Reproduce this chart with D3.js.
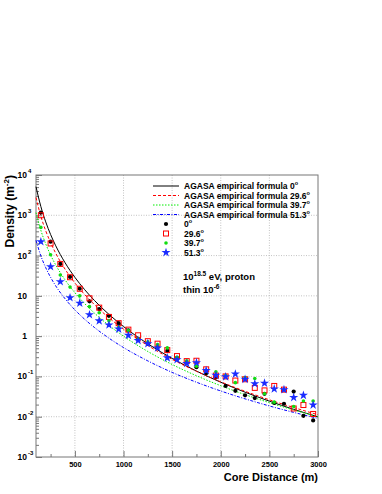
<!DOCTYPE html>
<html>
<head>
<meta charset="utf-8">
<script src="https://cdn.jsdelivr.net/npm/d3@7"></script>
<style>
  body { margin: 0; background: #fff; }
  svg { font-family: 'Liberation Sans', Arial, sans-serif; font-weight: bold; }
</style>
</head>
<body>
<svg id="chart" width="382" height="494"></svg>
<script>
// Simulated densities (m^-2) against core distance (m)
const distance = [150, 250, 350, 450, 550, 650, 750, 850, 950, 1050, 1150, 1250, 1350, 1450, 1550,
  1650, 1750, 1850, 1950, 2050, 2150, 2250, 2350, 2450, 2550, 2650, 2750, 2850, 2950];
const density0 = [1170, 221, 62, 29.5, 15, 7.3, 4.7, 3.2, 2.1, 1.4, 0.85, 0.65, 0.53, 0.43, 0.29,
  0.22, 0.17, 0.12, 0.095, 0.058, 0.044, 0.034, 0.029, 0.037, 0.022, 0.021, 0.042, 0.0105, 0.0081];
const density296 = [1000, 200, 62, 29, 15, 8.7, 5.1, 3.0, 2.1, 1.45, 1.05, 0.75, 0.65, 0.45, 0.32,
  0.24, 0.245, 0.15, 0.105, 0.1, 0.079, 0.085, 0.052, 0.045, 0.058, 0.047, 0.016, 0.0195, 0.0117];
const density397 = [500, 105, 33, 16.5, 10, 5.4, 3.8, 2.4, 1.66, 1.38, 0.85, 0.72, 0.62, 0.51, 0.3,
  0.245, 0.18, 0.14, 0.13, 0.105, 0.07, 0.093, 0.089, 0.037, 0.023, 0.047, 0.018, 0.0245, 0.0245];
const density513 = [221, 53, 22.5, 9, 6.6, 3.4, 2.4, 1.9, 1.5, 1.05, 0.78, 0.65, 0.51, 0.29, 0.26,
  0.21, 0.22, 0.14, 0.107, 0.098, 0.115, 0.085, 0.066, 0.068, 0.049, 0.047, 0.03, 0.034, 0.0195];

// AGASA empirical formula
const curveDistance = [100, 150, 200, 250, 300, 400, 500, 600, 700, 850, 1000, 1250, 1500, 1750, 2000, 2500, 3000];
const formula0 = [5130, 1645, 686, 334, 181, 65.8, 28.8, 14.3, 7.73, 3.47, 1.73, 0.645, 0.28, 0.136, 0.0718, 0.0243, 0.0099];
const formula296 = [2754, 942, 412, 210, 118, 45.5, 20.9, 10.8, 6.08, 2.86, 1.49, 0.585, 0.266, 0.134, 0.0734, 0.0263, 0.0112];
const formula397 = [1164, 423, 195, 103, 60.3, 24.7, 12.0, 6.45, 3.75, 1.85, 1.0, 0.416, 0.198, 0.104, 0.0588, 0.0223, 0.01];
const formula513 = [239, 98.2, 50.1, 28.9, 18.1, 8.41, 4.49, 2.63, 1.65, 0.891, 0.521, 0.243, 0.126, 0.0718, 0.0435, 0.0185, 0.0091];

const xTicks = [500, 1000, 1500, 2000, 2500, 3000];
const xMinorTicks = [250, 750, 1250, 1750, 2250, 2750];
const yExponents = [-3, -2, -1, 0, 1, 2, 3, 4];

const frame = { left: 36, right: 318, top: 175, bottom: 457 };

const svg = d3.select('#chart');

const x = d3.scaleLinear().domain([100, 3000]).range([frame.left, frame.right]);
const y = d3.scaleLog().domain([1e-3, 1e4]).range([frame.bottom, frame.top]);

// Dotted grid
const grid = svg.append('g').attr('class', 'grid')
  .attr('stroke', '#b4b4b4').attr('stroke-width', 0.8).attr('stroke-dasharray', '1,1.5');
grid.selectAll('line.v').data(xTicks.slice(0, -1)).join('line')
  .attr('class', 'v')
  .attr('x1', d => x(d)).attr('x2', d => x(d))
  .attr('y1', frame.top).attr('y2', frame.bottom);
grid.selectAll('line.h').data(yExponents.slice(1, -1)).join('line')
  .attr('class', 'h')
  .attr('x1', frame.left).attr('x2', frame.right)
  .attr('y1', d => y(Math.pow(10, d))).attr('y2', d => y(Math.pow(10, d)));

// Frame
svg.append('rect')
  .attr('x', frame.left).attr('y', frame.top)
  .attr('width', frame.right - frame.left).attr('height', frame.bottom - frame.top)
  .attr('fill', 'none').attr('stroke', '#777').attr('stroke-width', 1);

// X axis: ticks point into the frame
const xAxis = svg.append('g').attr('class', 'axis x')
  .attr('transform', `translate(0,${frame.bottom})`);
xAxis.call(d3.axisBottom(x).tickValues(xTicks).tickSize(-6).tickPadding(5).tickFormat(d3.format('d')));
xAxis.append('g').call(d3.axisBottom(x).tickValues(xMinorTicks).tickSize(-3).tickFormat(''));
xAxis.selectAll('.domain').remove();
xAxis.selectAll('line').attr('stroke', '#777');
xAxis.selectAll('text')
  .attr('font-size', 7.5).attr('font-weight', 'bold').attr('font-family', 'Liberation Sans, Arial, sans-serif')
  .attr('fill', '#000');

// Y axis: decade ticks plus log minor ticks
const yMinor = [];
yExponents.slice(0, -1).forEach(e => {
  for (let k = 2; k <= 9; k++) yMinor.push(k * Math.pow(10, e));
});
const yAxis = svg.append('g').attr('class', 'axis y')
  .attr('transform', `translate(${frame.left},0)`);
yAxis.call(d3.axisLeft(y).tickValues(yExponents.map(e => Math.pow(10, e))).tickSize(-6).tickFormat(''));
yAxis.append('g').call(d3.axisLeft(y).tickValues(yMinor).tickSize(-3).tickFormat(''));
yAxis.selectAll('.domain').remove();
yAxis.selectAll('line').attr('stroke', '#777');

// Y tick labels written as 10 with a superscript exponent
const yLabels = svg.append('g').attr('class', 'ylabels').attr('font-size', 8.5);
yExponents.forEach(e => {
  const yy = y(Math.pow(10, e)) + 3;
  if (e === 0 || e === 1) {
    yLabels.append('text').attr('x', 27).attr('y', yy).attr('text-anchor', 'end')
      .text(e === 0 ? '1' : '10');
  } else {
    yLabels.append('text').attr('x', 27).attr('y', yy).attr('text-anchor', 'end').text('10');
    yLabels.append('text').attr('x', 28).attr('y', yy - 5).attr('font-size', 6).text(e);
  }
});

// AGASA curves
const curves = [
  { values: formula0, color: '#000', dash: null },
  { values: formula296, color: '#ff0000', dash: '3,2' },
  { values: formula397, color: '#00ee00', dash: '1.5,1.5' },
  { values: formula513, color: '#0000ff', dash: '3,1.5,1,1.5' }
];
const line = d3.line()
  .x((d, i) => x(curveDistance[i]))
  .y(d => y(d))
  .curve(d3.curveMonotoneX);

svg.append('g').attr('class', 'curves')
  .selectAll('path').data(curves).join('path')
  .attr('d', d => line(d.values))
  .attr('fill', 'none')
  .attr('stroke', d => d.color)
  .attr('stroke-width', 1)
  .attr('stroke-dasharray', d => d.dash);

// Markers
const points = svg.append('g').attr('class', 'points');
const star = d3.symbol().type(d3.symbolStar).size(26);

points.append('g').selectAll('circle').data(density0).join('circle')
  .attr('cx', (d, i) => x(distance[i])).attr('cy', d => y(d))
  .attr('r', 2.1).attr('fill', '#000');

points.append('g').selectAll('rect').data(density296).join('rect')
  .attr('x', (d, i) => x(distance[i]) - 2.5).attr('y', d => y(d) - 2.5)
  .attr('width', 5).attr('height', 5)
  .attr('fill', 'none').attr('stroke', '#ff0000').attr('stroke-width', 1);

points.append('g').selectAll('circle').data(density397).join('circle')
  .attr('cx', (d, i) => x(distance[i])).attr('cy', d => y(d))
  .attr('r', 1.8).attr('fill', '#11dd11');

points.append('g').selectAll('path').data(density513).join('path')
  .attr('transform', (d, i) => `translate(${x(distance[i])},${y(d)})`)
  .attr('d', star).attr('fill', '#1a2cff');

// Legend
const legendItems = [
  { label: 'AGASA empirical formula 0', kind: 'line', style: curves[0] },
  { label: 'AGASA empirical formula 29.6', kind: 'line', style: curves[1] },
  { label: 'AGASA empirical formula 39.7', kind: 'line', style: curves[2] },
  { label: 'AGASA empirical formula 51.3', kind: 'line', style: curves[3] },
  { label: '0', kind: 'circle' },
  { label: '29.6', kind: 'square' },
  { label: '39.7', kind: 'dot' },
  { label: '51.3', kind: 'star' }
];
const legend = svg.append('g').attr('class', 'legend').attr('font-size', 8.5);
legendItems.forEach((item, i) => {
  const cy = 186 + i * 9.5;
  const g = legend.append('g').attr('transform', `translate(0,${cy})`);
  if (item.kind === 'line') {
    g.append('line').attr('x1', 153).attr('x2', 179).attr('y1', 0).attr('y2', 0)
      .attr('stroke', item.style.color).attr('stroke-width', 1)
      .attr('stroke-dasharray', item.style.dash);
  } else if (item.kind === 'circle') {
    g.append('circle').attr('cx', 166).attr('cy', 0).attr('r', 2.1).attr('fill', '#000');
  } else if (item.kind === 'square') {
    g.append('rect').attr('x', 163.5).attr('y', -2.5).attr('width', 5).attr('height', 5)
      .attr('fill', 'none').attr('stroke', '#ff0000');
  } else if (item.kind === 'dot') {
    g.append('circle').attr('cx', 166).attr('cy', 0).attr('r', 1.8).attr('fill', '#11dd11');
  } else {
    g.append('path').attr('transform', 'translate(166,0)').attr('d', star).attr('fill', '#1a2cff');
  }
  const t = g.append('text').attr('x', 184).attr('y', 3);
  t.append('tspan').text(item.label);
  t.append('tspan').attr('font-size', 5.5).attr('dy', -4).text('o');
});

// Annotation
const note = svg.append('g').attr('class', 'note').attr('font-size', 9.5);
const n1 = note.append('text').attr('x', 183).attr('y', 280);
n1.append('tspan').text('10');
n1.append('tspan').attr('font-size', 6.5).attr('dy', -4.5).text('18.5');
n1.append('tspan').attr('dy', 4.5).text(' eV, proton');
const n2 = note.append('text').attr('x', 183).attr('y', 293);
n2.append('tspan').text('thin 10');
n2.append('tspan').attr('font-size', 6.5).attr('dy', -4.5).text('-6');

// Axis titles
svg.append('text')
  .attr('x', frame.right).attr('y', 481)
  .attr('text-anchor', 'end').attr('font-size', 11)
  .text('Core Distance  (m)');

const yt = svg.append('text')
  .attr('transform', `translate(14,${frame.top}) rotate(-90)`)
  .attr('text-anchor', 'end').attr('font-size', 12);
yt.append('tspan').text('Density  (m');
yt.append('tspan').attr('font-size', 8).attr('dy', -5).text('-2');
yt.append('tspan').attr('dy', 5).text(')');
</script>
</body>
</html>
